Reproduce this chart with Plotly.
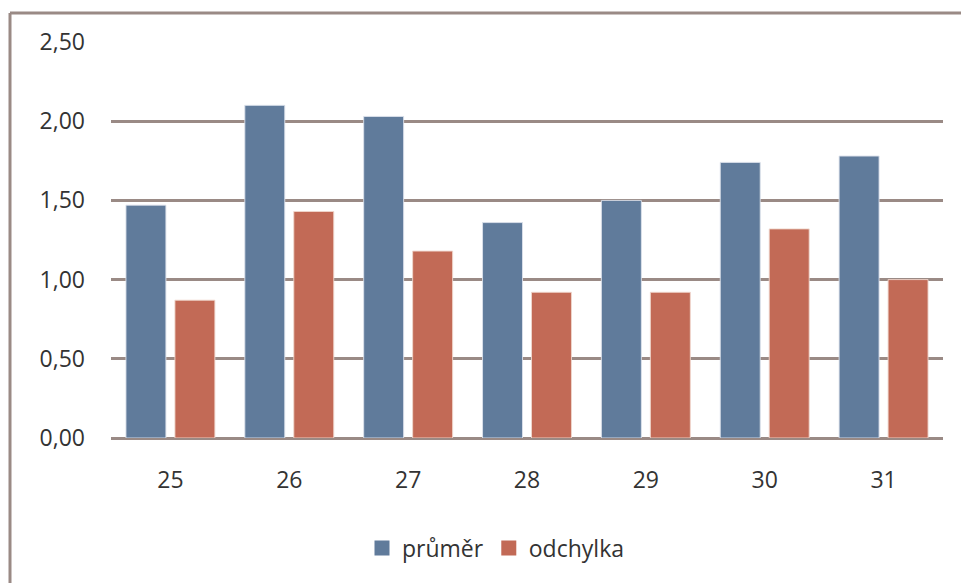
import plotly.graph_objects as go

# Hodnoty podle věku
categories = ["25", "26", "27", "28", "29", "30", "31"]
prumer = [1.47, 2.10, 2.03, 1.36, 1.50, 1.74, 1.78]
odchylka = [0.87, 1.43, 1.18, 0.92, 0.92, 1.32, 1.00]
y_ticks = [0, 0.5, 1.0, 1.5, 2.0, 2.5]
y_tick_labels = ["0,00", "0,50", "1,00", "1,50", "2,00", "2,50"]

BLUE = "#607b9b"
RED = "#c26a56"
GRID = "#9a8a85"
FONT = "Open Sans"
TXT = "#333333"
FS = 23

fig = go.Figure()
fig.add_trace(go.Bar(
    x=categories, y=prumer, name="průměr", showlegend=False,
    marker=dict(color=BLUE, line=dict(color="rgba(220,225,235,0.9)", width=1)),
))
fig.add_trace(go.Bar(
    x=categories, y=odchylka, name="odchylka", showlegend=False,
    marker=dict(color=RED, line=dict(color="rgba(240,215,205,0.9)", width=1)),
))
# legenda se čtvercovými značkami
for name, color in [("průměr", BLUE), ("odchylka", RED)]:
    fig.add_trace(go.Scatter(
        x=[None], y=[None], mode="markers", name=name,
        marker=dict(symbol="square", size=15, color=color),
    ))

W, H = 961, 583
L, R, T, B = 111, 18, 42, 145
pw, ph = W - L - R, H - T - B

def px(x):
    return (x - L) / pw

def py(y):
    return (H - B - y) / ph

fig.update_layout(
    width=W, height=H,
    margin=dict(l=L, r=R, t=T, b=B),
    paper_bgcolor="white", plot_bgcolor="white",
    barmode="group", bargap=0.176, bargroupgap=0.184,
    font=dict(family=FONT, size=FS, color=TXT),
    showlegend=True,
    legend=dict(
        orientation="h", x=px(496), xanchor="center",
        y=py(548), yanchor="middle",
        font=dict(family=FONT, size=FS, color=TXT),
        traceorder="normal", itemwidth=30,
    ),
    xaxis=dict(
        showgrid=False, showline=False, zeroline=False,
        ticks="", tickfont=dict(family=FONT, size=FS, color=TXT),
        ticklabelstandoff=26,
    ),
    yaxis=dict(
        range=[0, 2.5], tickvals=y_ticks, ticktext=y_tick_labels,
        showgrid=True, gridcolor=GRID, gridwidth=3,
        zeroline=True, zerolinecolor=GRID, zerolinewidth=3,
        showline=False, ticks="",
        tickfont=dict(family=FONT, size=FS, color=TXT),
        ticklabelstandoff=25,
    ),
    shapes=[
        # rámeček grafu (horní a levá hrana)
        dict(type="line", xref="paper", yref="paper",
             x0=px(10), x1=px(965), y0=py(13), y1=py(13),
             line=dict(color=GRID, width=3), layer="above"),
        dict(type="line", xref="paper", yref="paper",
             x0=px(10), x1=px(10), y0=py(13), y1=py(590),
             line=dict(color=GRID, width=3), layer="above"),
    ],
)

fig.write_html("out.html")
